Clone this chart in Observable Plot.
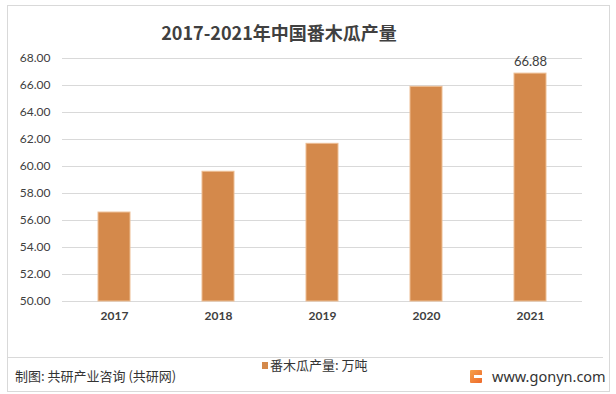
<!DOCTYPE html>
<html>
<head>
<meta charset="utf-8">
<script src="https://cdn.jsdelivr.net/npm/d3@7"></script>
<script src="https://cdn.jsdelivr.net/npm/@observablehq/plot@0.6"></script>
<style>
  html, body { margin: 0; padding: 0; background: #fff; }
  #wrap { position: relative; width: 616px; height: 394px; overflow: hidden; font-family: "Noto Sans CJK SC", "Noto Sans", sans-serif; }
  #frame { position: absolute; left: 7px; top: 5px; width: 603px; height: 387px; border: 1px solid #d9d9d9; box-sizing: border-box; }
  #sep { position: absolute; left: 8px; top: 357px; width: 595px; height: 1px; background: #d9d9d9; }
  #title { position: absolute; left: 0; width: 558px; top: 20px; text-align: center; font-size: 18px; font-weight: bold; color: #404040; line-height: 24px; }
  #chart { position: absolute; left: 0; top: 0; }
  #credit { position: absolute; left: 15px; top: 367px; font-size: 13px; color: #333; line-height: 18px; }
  #legend { position: absolute; left: 262px; top: 356px; font-size: 13px; color: #333; line-height: 18px; display: flex; align-items: center; }
  #legend .sw { width: 6px; height: 7px; background: #D4894B; margin-right: 2px; }
  #site { position: absolute; left: 470px; top: 366px; font-size: 14.5px; color: #333; line-height: 20px; display: flex; align-items: center; font-family: "Noto Sans", sans-serif; }
  #logo { width: 12px; height: 13px; margin-right: 10px; position: relative; background: linear-gradient(135deg, #f6a04b, #ee6a2b); border-radius: 1px; }
  #logo::after { content: ""; position: absolute; left: 4px; top: 5px; width: 8px; height: 3px; background: #fff; }
</style>
</head>
<body>
<div id="wrap">
  <div id="frame"></div>
  <div id="sep"></div>
  <div id="chart"></div>
  <div id="title">2017-2021年中国番木瓜产量</div>
  <div id="credit">制图: 共研产业咨询 (共研网)</div>
  <div id="legend"><span class="sw"></span><span>番木瓜产量: 万吨</span></div>
  <div id="site"><span id="logo"></span><span>www.gonyn.com</span></div>
</div>
<script>
const years = ["2017", "2018", "2019", "2020", "2021"];
const values = [56.59, 59.61, 61.68, 65.90, 66.88];
const valueLabels = ["", "", "", "", "66.88"];
const yTicks = [50, 52, 54, 56, 58, 60, 62, 64, 66, 68];

const data = years.map((y, i) => ({year: y, value: values[i], label: valueLabels[i]}));
const yBase = yTicks[0];

const chart = Plot.plot({
  width: 616,
  height: 394,
  marginLeft: 62,
  marginRight: 34,
  marginTop: 58,
  marginBottom: 93,
  style: {background: "transparent", fontFamily: "Lato, 'Noto Sans', sans-serif", color: "#404040"},
  x: {domain: years, paddingInner: 0.69, paddingOuter: 0.345, label: null},
  y: {domain: [yTicks[0], yTicks[yTicks.length - 1]], label: null},
  marks: [
    Plot.ruleY(yTicks, {stroke: "#d9d9d9", strokeWidth: 1}),
    Plot.barY(data, {x: "year", y1: () => yBase, y2: "value", fill: "#D4894B", stroke: "#EDBE94", strokeWidth: 1}),
    Plot.text(data.filter(d => d.label), {x: "year", y: "value", text: "label", dy: -12, fontSize: 13, fill: "#404040"}),
    Plot.axisY(yTicks, {tickSize: 0, tickPadding: 12, tickFormat: d3.format(".2f"), fontSize: 12, fill: "#404040"}),
    Plot.axisX({tickSize: 0, tickPadding: 10, fontSize: 12, fontWeight: "bold", fill: "#404040"})
  ]
});
document.getElementById("chart").appendChild(chart);
</script>
</body>
</html>
